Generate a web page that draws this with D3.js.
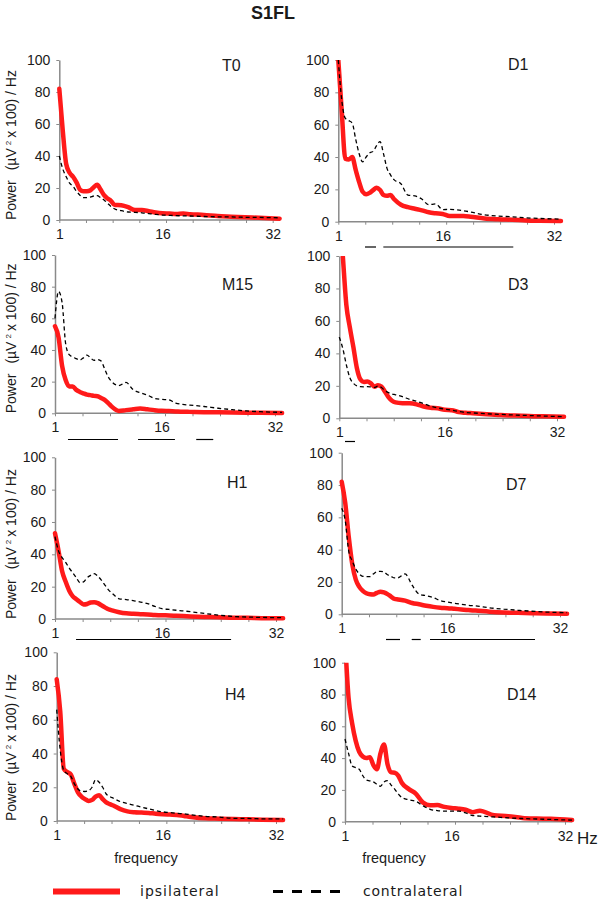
<!DOCTYPE html>
<html>
<head>
<meta charset="utf-8">
<script src="https://cdn.jsdelivr.net/npm/d3@7"></script>
<style>
  html, body { margin: 0; padding: 0; background: #fff; }
  svg { display: block; }
</style>
</head>
<body>
<svg id="chart" width="600" height="900" font-family="Liberation Sans, Arial, Helvetica, sans-serif"></svg>
<script>
// ---------------- DATA ----------------
const chartTitle = "S1FL";
const freqs = [1, 1.5, 2, 2.5, 3, 3.5, 4, 4.5, 5, 5.5, 6, 6.5, 7, 7.5, 8, 8.5, 9, 10, 11, 12, 13, 14, 15, 16, 17, 18, 19, 20, 22, 24, 26, 28, 30, 33];
const panelNames = ["T0", "D1", "M15", "D3", "H1", "D7", "H4", "D14"];
const yTicks = [0, 20, 40, 60, 80, 100];
const xTickLabels = [1, 16, 32];
const seriesNames = ["ipsilateral", "contralateral"];

const ipsi_T0   = [82, 56, 35, 29.5, 27, 23.5, 19, 18, 18, 18.5, 20.5, 22, 19, 15.5, 13.5, 12, 9.5, 9.2, 8, 6.2, 6.2, 5.5, 4.7, 4.2, 4, 3.7, 4, 3.6, 3.2, 2.5, 2.1, 1.7, 1.4, 0.8];
const contra_T0 = [40, 32, 27, 23, 21, 18, 15.5, 14, 14, 14.3, 15, 15.2, 14, 12.5, 10.5, 8.5, 7, 5.8, 5, 4.8, 4.5, 4, 3.5, 3.1, 2.9, 2.7, 2.6, 2.5, 2.2, 2, 1.9, 1.7, 1.6, 1.4];

const ipsi_D1   = [100, 68, 39, 38.5, 40, 32, 24.5, 18.5, 17, 17.8, 19.5, 21, 19.6, 16.5, 16, 16.5, 14, 10.5, 9, 8, 7, 5.8, 5.2, 4.8, 3.5, 3.6, 3.5, 3.1, 2, 1.5, 1.2, 0.8, 0.6, 0.4];
const contra_D1 = [100, 75, 64, 62.5, 61, 51, 42, 37, 40, 42.5, 43.5, 47, 49.5, 42, 33, 29, 26, 23.5, 16.5, 16, 14, 10.5, 11, 7.5, 7.6, 7.3, 6.8, 6, 4.3, 3.5, 3, 2.4, 2, 1.6];

const ipsi_M15   = [55, 48, 30, 21, 17, 17, 14.8, 13.5, 12.6, 11.8, 11.5, 11, 10.8, 9.7, 8.5, 6.5, 4.2, 1.5, 2, 2.5, 3, 2.5, 2, 1.6, 1.4, 1.2, 1, 0.9, 0.7, 0.6, 0.5, 0.4, 0.3, 0.2];
const contra_M15 = [60, 77, 70, 44, 37, 35.5, 34.5, 33.7, 35, 36.8, 35, 33.5, 34, 33, 28, 23, 20, 17.5, 19.5, 15, 13, 11.5, 9.5, 8.8, 8.5, 6.5, 5.6, 5.2, 4.3, 3.2, 2.3, 1.5, 1, 0.6];

const ipsi_D3   = [130, 100, 70, 56, 44, 31, 24, 22.4, 22.6, 21.5, 19.5, 20.3, 19.5, 16.4, 13, 10.8, 9.8, 9.3, 9.2, 8.6, 7.3, 6.5, 6.2, 5.2, 5, 3.8, 3.4, 3.1, 2.5, 2, 1.7, 1.4, 1.2, 1];
const contra_D3 = [50, 43, 33, 25, 21.6, 20, 19.5, 19.4, 19.5, 19.3, 19, 19.8, 19, 17, 15.8, 15, 14.5, 13.3, 11.7, 10.5, 9.1, 7.5, 6.4, 5.6, 5, 4.2, 3.6, 3.3, 2.8, 2.4, 2, 1.7, 1.4, 1];

const ipsi_H1   = [53, 42, 29.5, 23, 17.5, 14, 12.2, 10.5, 9, 9.3, 10.2, 10.4, 9.8, 8.5, 7.2, 6, 5.3, 4.2, 3.5, 3.2, 3, 2.8, 2.5, 2.3, 2.2, 2, 1.8, 1.6, 1.3, 1.1, 0.8, 0.7, 0.5, 0.4];
const contra_H1 = [51, 42, 38, 35, 31.5, 28.5, 25.5, 22.5, 23, 25.5, 27, 28, 26.5, 24, 21, 18, 16, 12.5, 12, 11.3, 10.5, 9.5, 7.8, 6.4, 5.9, 5.4, 5, 4.5, 3.4, 2.4, 1.6, 1.2, 1, 0.8];

const ipsi_D7   = [82, 69, 48, 31, 21.5, 17, 14.5, 13, 12.4, 12.3, 13.3, 14, 13.5, 12.5, 11, 9.5, 9.2, 8.5, 7, 6.2, 5.3, 4.6, 4.1, 3.8, 3.4, 3, 2.6, 2.3, 1.6, 1.1, 0.9, 0.7, 0.5, 0.4];
const contra_D7 = [65.6, 58, 39, 33, 28, 25, 23.5, 23.3, 23.3, 25, 26.4, 26.6, 26.2, 24.5, 23.5, 22.5, 22.6, 25, 18, 12.5, 11.5, 10.3, 8.5, 7.6, 6.8, 6.2, 5.6, 5.2, 4, 3.2, 2.5, 1.9, 1.4, 1];

const ipsi_H4   = [84, 65, 31, 29, 27.5, 22, 17, 14.5, 13, 11.9, 12.5, 14.5, 15.3, 13, 11, 10, 9.2, 7, 5.7, 5.2, 5, 4.8, 4.3, 4, 3.8, 3.6, 3, 2.4, 1.6, 1.4, 1.2, 1, 0.8, 0.6];
const contra_H4 = [66, 42, 30, 28, 26.5, 22, 19, 17.6, 17.5, 18, 20, 24.5, 23, 20, 16, 14.5, 13.5, 11.5, 10.3, 9.3, 8.2, 7.2, 6.2, 5.4, 5, 4.5, 4.3, 3.7, 2.8, 2.3, 1.6, 1.5, 1.3, 1.2];

const ipsi_D14   = [115, 78, 62, 51, 44, 41, 40, 40.5, 35.6, 33, 43, 48.5, 36, 31, 30.8, 29, 24.5, 20.5, 17.5, 12, 10.3, 10.5, 9.3, 8.6, 8.2, 7.5, 6, 6.9, 4, 3.5, 2.4, 2, 1.8, 1];
const contra_D14 = [52, 43, 35, 34, 33, 29, 26.3, 25.7, 25, 23.5, 22.3, 25, 25.8, 23, 20.5, 17.5, 15.2, 13.8, 12.8, 10, 7.8, 7, 6.7, 6.7, 6.7, 5.5, 3.9, 3.5, 3, 2.4, 2, 1.7, 1.4, 1];

// significance bars (frequency ranges, Hz)
const sig_T0 = [];
const sig_D1 = [[4.84, 6.42], [7.47, 26.15]];
const sig_M15 = [[2.83, 9.88], [12.7, 17.9], [20.9, 23.3]];
const sig_D3 = [[1.81, 3.24]];
const sig_H1 = [[3.95, 25.7]];
const sig_D7 = [[7.29, 9.28], [10.94, 12.22], [13.54, 28.45]];
const sig_H4 = [];
const sig_D14 = [];

const ipsiSeries = [ipsi_T0, ipsi_D1, ipsi_M15, ipsi_D3, ipsi_H1, ipsi_D7, ipsi_H4, ipsi_D14];
const contraSeries = [contra_T0, contra_D1, contra_M15, contra_D3, contra_H1, contra_D7, contra_H4, contra_D14];
const sigSeries = [sig_T0, sig_D1, sig_M15, sig_D3, sig_H1, sig_D7, sig_H4, sig_D14];

// ---------------- LAYOUT ----------------
// [x at 1 Hz, x at 32 Hz, y at 100, y at 0, label x, label baseline, sig-bar y]
const layout = [
  [59.3, 272.7, 60,    220,   222, 70.5, null],
  [338.3, 554,  60,    221.7, 508, 69.5, 247],
  [55,   275,   255,   413.3, 222, 289.5, 439.5],
  [339.3, 557,  256,   418.3, 508, 289.5, 441.5],
  [55,   276,   457.3, 619,   227, 487.5, 639.5],
  [341.7, 560,  452.7, 614.3, 506, 490,  639.5],
  [56.7, 276,   652.3, 821,   225, 700,  null],
  [345,  565,   662.7, 821.7, 507, 700,  null]
];

const RED = "#ff1a1a";
const TXT = "#1a1a1a";
const svg = d3.select("#chart");

svg.append("text")
  .attr("x", 273).attr("y", 19)
  .attr("text-anchor", "middle")
  .attr("font-size", 18).attr("font-weight", "bold").attr("fill", TXT)
  .text(chartTitle);

const xTickVals = d3.range(9).map(k => 1 + k * 31 / 8);
const defs = svg.append("defs");

panelNames.forEach((name, i) => {
  const [x1, x32, yT, yB, lx, ly, sy] = layout[i];
  const x = d3.scaleLinear().domain([1, 32]).range([x1, x32]);
  const y = d3.scaleLinear().domain([0, 100]).range([yB, yT]);
  const g = svg.append("g");

  defs.append("clipPath").attr("id", "clip" + i)
    .append("rect").attr("x", x1 - 10).attr("y", yT).attr("width", x32 - x1 + 40).attr("height", yB - yT + 10);

  // y axis
  const ya = g.append("g").attr("transform", `translate(${x1},0)`)
    .call(d3.axisLeft(y).tickValues(yTicks).tickSize(3).tickSizeOuter(0).tickPadding(6));
  ya.attr("font-family", null).attr("font-size", 14);
  ya.select(".domain").attr("stroke", "#8a8a8a").attr("stroke-width", 1.5);
  ya.selectAll(".tick line").attr("stroke", "#8a8a8a");
  ya.selectAll(".tick text").attr("fill", TXT);

  // x axis (tick marks)
  const xa = g.append("g").attr("transform", `translate(0,${yB})`)
    .call(d3.axisBottom(x).tickValues(xTickVals).tickSize(3).tickSizeOuter(0).tickFormat(""));
  xa.select(".domain").attr("stroke", "#8a8a8a").attr("stroke-width", 1.5)
    .attr("d", `M${x1},0H${x(33)}`);
  xa.selectAll(".tick line").attr("stroke", "#8a8a8a");
  // x labels
  const xl = g.append("g").attr("transform", `translate(0,${yB})`)
    .call(d3.axisBottom(x).tickValues(xTickLabels).tickSize(0).tickPadding(9));
  xl.attr("font-family", null).attr("font-size", 14);
  xl.select(".domain").remove();
  xl.selectAll(".tick text").attr("fill", TXT);

  const plot = g.append("g").attr("clip-path", `url(#clip${i})`);
  const lineSmooth = d3.line().x((d, j) => x(freqs[j])).y(d => y(d)).curve(d3.curveMonotoneX);

  plot.append("path").datum(ipsiSeries[i]).attr("d", lineSmooth)
    .attr("fill", "none").attr("stroke", RED).attr("stroke-width", 4.5)
    .attr("stroke-linejoin", "round").attr("stroke-linecap", "round");
  plot.append("path").datum(contraSeries[i]).attr("d", lineSmooth)
    .attr("fill", "none").attr("stroke", "#000").attr("stroke-width", 1.3)
    .attr("stroke-dasharray", "4,3");

  // panel label
  g.append("text").attr("x", lx).attr("y", ly).attr("font-size", 16).attr("fill", TXT).text(name);

  // significance bars
  g.selectAll("line.sig").data(sigSeries[i]).join("line")
    .attr("class", "sig")
    .attr("x1", d => x(d[0])).attr("x2", d => x(d[1]))
    .attr("y1", sy).attr("y2", sy)
    .attr("stroke", "#000").attr("stroke-width", 1.2);

  // y title for left column
  if (i % 2 === 0) {
    const t = g.append("text")
      .attr("transform", `translate(16,${yB}) rotate(-90)`)
      .attr("font-size", 14).attr("fill", TXT);
    t.append("tspan").text("Power");
    t.append("tspan").attr("dx", i === 6 ? 7 : 10).text("(µV");
    t.append("tspan").attr("font-size", 8).attr("dx", 3).attr("dy", -5).text("2");
    t.append("tspan").attr("dx", 3).attr("dy", 5).text("x 100) / Hz");
  }
});

// frequency labels
svg.append("text").attr("x", 146).attr("y", 863).attr("text-anchor", "middle").attr("font-size", 14.5).attr("fill", TXT).text("frequency");
svg.append("text").attr("x", 394).attr("y", 863).attr("text-anchor", "middle").attr("font-size", 14.5).attr("fill", TXT).text("frequency");
svg.append("text").attr("x", 577).attr("y", 843.5).attr("font-size", 17).attr("fill", TXT).text("Hz");

// legend
const lg = svg.append("g");
lg.append("line").attr("x1", 53).attr("x2", 120).attr("y1", 891.5).attr("y2", 891.5)
  .attr("stroke", RED).attr("stroke-width", 6);
lg.append("text").attr("x", 140).attr("y", 896).attr("font-size", 14)
  .attr("font-family", "DejaVu Sans, Verdana, sans-serif").attr("letter-spacing", 1).attr("fill", TXT)
  .text(seriesNames[0]);
lg.append("line").attr("x1", 273).attr("x2", 343).attr("y1", 891.5).attr("y2", 891.5)
  .attr("stroke", "#000").attr("stroke-width", 3).attr("stroke-dasharray", "10,9");
lg.append("text").attr("x", 363).attr("y", 896).attr("font-size", 14)
  .attr("font-family", "DejaVu Sans, Verdana, sans-serif").attr("letter-spacing", 0.8).attr("fill", TXT)
  .text(seriesNames[1]);
</script>
</body>
</html>
